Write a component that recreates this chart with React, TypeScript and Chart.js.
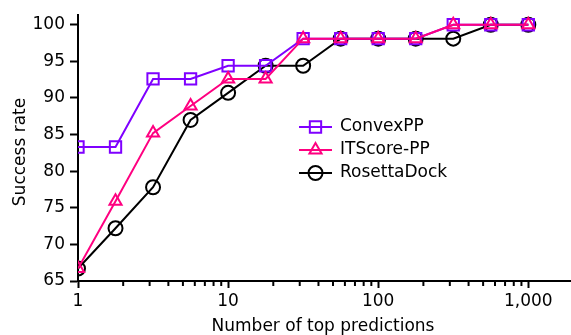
import React, { useEffect, useRef } from 'react';
import { Chart, registerables } from 'chart.js';

Chart.register(...registerables);

// ---- data ----
const topPredictions = [1, 1.778, 3.162, 5.623, 10, 17.78, 31.62, 56.23, 100, 177.8, 316.2, 562.3, 1000];
const convexPP = [83.3, 83.3, 92.6, 92.6, 94.4, 94.4, 98.1, 98.1, 98.1, 98.1, 100, 100, 100];
const itScorePP = [66.7, 75.9, 85.2, 88.9, 92.6, 92.6, 98.1, 98.1, 98.1, 98.1, 100, 100, 100];
const rosettaDock = [66.7, 72.2, 77.8, 87.0, 90.7, 94.4, 94.4, 98.1, 98.1, 98.1, 98.1, 100, 100];
const seriesNames = ['ConvexPP', 'ITScore-PP', 'RosettaDock'];
const xMajorTicks = [1, 10, 100, 1000];
const xMajorLabels = ['1', '10', '100', '1,000'];
const xMinorTicks = [2, 3, 4, 5, 6, 7, 8, 9, 20, 30, 40, 50, 60, 70, 80, 90, 200, 300, 400, 500, 600, 700, 800, 900];
const yTicks = [65, 70, 75, 80, 85, 90, 95, 100];
const xTitle = 'Number of top predictions';
const yTitle = 'Success rate';

const COLORS = ['#7f00ff', '#ff0080', '#000000'];
const STYLES = ['rect', 'triangle', 'circle'];
const RADII = [8, 7, 7];
const FONT = "'DejaVu Sans', sans-serif";

function drawMarker(ctx: CanvasRenderingContext2D, style: string, x: number, y: number, r: number) {
  ctx.beginPath();
  if (style === 'rect') {
    const s = r * Math.SQRT1_2;
    ctx.rect(x - s, y - s, 2 * s, 2 * s);
  } else if (style === 'triangle') {
    ctx.moveTo(x, y - r);
    ctx.lineTo(x + 0.866 * r, y + 0.5 * r);
    ctx.lineTo(x - 0.866 * r, y + 0.5 * r);
    ctx.closePath();
  } else {
    ctx.arc(x, y, r, 0, Math.PI * 2);
  }
  ctx.stroke();
}

const extrasPlugin = {
  id: 'extras',
  afterDraw(chart: any) {
    const ctx: CanvasRenderingContext2D = chart.ctx;
    const xs = chart.scales.x;
    const area = chart.chartArea;
    ctx.save();
    // minor ticks
    ctx.strokeStyle = '#000';
    ctx.lineWidth = 2;
    xMinorTicks.forEach((v) => {
      const px = xs.getPixelForValue(v);
      ctx.beginPath();
      ctx.moveTo(px, area.bottom);
      ctx.lineTo(px, area.bottom + 5);
      ctx.stroke();
    });
    // axis titles
    ctx.fillStyle = '#000';
    ctx.font = `17px ${FONT}`;
    ctx.textAlign = 'center';
    ctx.textBaseline = 'alphabetic';
    ctx.fillText(xTitle, 323, 331);
    ctx.save();
    ctx.translate(25, 152);
    ctx.rotate(-Math.PI / 2);
    ctx.fillText(yTitle, 0, 0);
    ctx.restore();
    // legend
    const rows = [127, 150, 173];
    seriesNames.forEach((name, i) => {
      const y = rows[i];
      ctx.strokeStyle = COLORS[i];
      ctx.lineWidth = 2;
      ctx.beginPath();
      ctx.moveTo(299, y);
      ctx.lineTo(332, y);
      ctx.stroke();
      drawMarker(ctx, STYLES[i], 315.5, y, RADII[i]);
      ctx.fillStyle = '#000';
      ctx.font = `17px ${FONT}`;
      ctx.textAlign = 'left';
      ctx.textBaseline = 'middle';
      ctx.fillText(name, 340, y);
    });
    ctx.restore();
  },
};

export default function App() {
  const ref = useRef<HTMLCanvasElement | null>(null);
  useEffect(() => {
    document.body.style.margin = '0';
    const series = [convexPP, itScorePP, rosettaDock];
    const orders = [1, 0, 2];
    const chart = new Chart(ref.current as HTMLCanvasElement, {
      type: 'line',
      data: {
        datasets: series.map((s, i) => ({
          label: seriesNames[i],
          data: topPredictions.map((x, j) => ({ x, y: s[j] })),
          borderColor: COLORS[i],
          backgroundColor: 'rgba(0,0,0,0)',
          borderWidth: 2,
          pointStyle: STYLES[i] as any,
          pointRadius: RADII[i],
          pointBorderWidth: 2,
          pointBorderColor: COLORS[i],
          pointBackgroundColor: 'rgba(0,0,0,0)',
          tension: 0,
          clip: 0,
          order: orders[i],
        })),
      },
      options: {
        animation: false,
        responsive: false,
        layout: { autoPadding: false, padding: { top: 13, right: 0, left: 0, bottom: 0 } },
        plugins: { legend: { display: false }, tooltip: { enabled: false } },
        scales: {
          x: {
            type: 'logarithmic',
            min: 1,
            max: 1925,
            afterBuildTicks: (scale: any) => {
              scale.ticks = [...xMajorTicks, ...xMinorTicks].sort((a, b) => a - b).map((v) => ({ value: v }));
            },
            afterFit: (scale: any) => {
              scale.height = 54;
              scale.paddingRight = 0;
              scale.paddingLeft = 0;
            },
            border: { display: true, color: '#000', width: 2 },
            grid: {
              display: true,
              drawOnChartArea: false,
              drawTicks: true,
              tickLength: 7,
              tickWidth: 2,
              tickColor: (c: any) => (c.tick && xMajorTicks.includes(c.tick.value) ? '#000' : 'rgba(0,0,0,0)'),
            },
            ticks: {
              autoSkip: false,
              maxRotation: 0,
              minRotation: 0,
              padding: 3,
              color: '#000',
              font: { family: FONT, size: 17 },
              callback: (value: any) => {
                const idx = xMajorTicks.indexOf(Number(value));
                return idx >= 0 ? xMajorLabels[idx] : '';
              },
            },
          },
          y: {
            type: 'linear',
            min: 65,
            max: 101.3,
            afterBuildTicks: (scale: any) => {
              scale.ticks = yTicks.map((v) => ({ value: v }));
            },
            afterFit: (scale: any) => {
              scale.width = 78;
            },
            border: { display: true, color: '#000', width: 2 },
            grid: {
              display: true,
              drawOnChartArea: false,
              drawTicks: true,
              tickLength: 8,
              tickWidth: 2,
              tickColor: '#000',
            },
            ticks: {
              padding: 5,
              color: '#000',
              font: { family: FONT, size: 17 },
              callback: (value: any) => String(value),
            },
          },
        },
      },
      plugins: [extrasPlugin],
    });
    return () => chart.destroy();
  }, []);
  return (
    <div style={{ width: 571, height: 335, overflow: 'hidden' }}>
      <canvas ref={ref} width={571} height={335} style={{ display: 'block' }} />
    </div>
  );
}
